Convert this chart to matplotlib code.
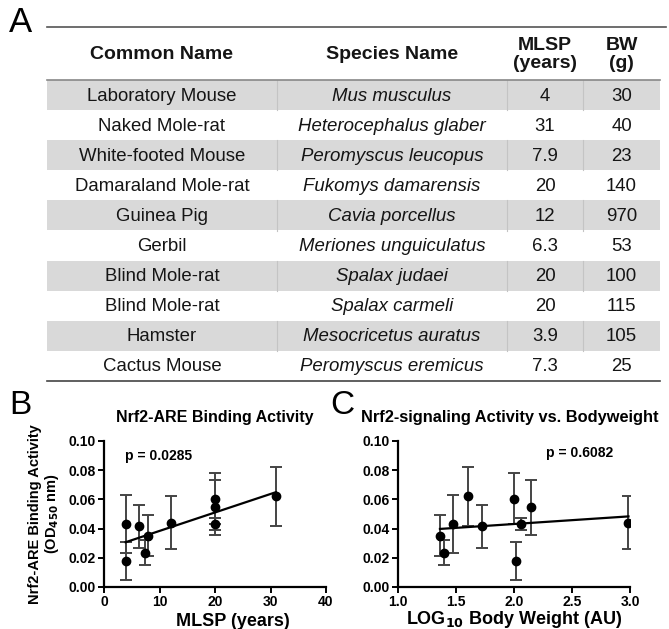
import numpy as np
import matplotlib
matplotlib.use("Agg")
import matplotlib.pyplot as plt
from matplotlib.patches import Rectangle

plt.rcParams['font.family'] = ['Liberation Sans', 'DejaVu Sans']

# table data
common_names = ["Laboratory Mouse", "Naked Mole-rat", "White-footed Mouse",
                "Damaraland Mole-rat", "Guinea Pig", "Gerbil", "Blind Mole-rat",
                "Blind Mole-rat", "Hamster", "Cactus Mouse"]
species_names = ["Mus musculus", "Heterocephalus glaber", "Peromyscus leucopus",
                 "Fukomys damarensis", "Cavia porcellus", "Meriones unguiculatus",
                 "Spalax judaei", "Spalax carmeli", "Mesocricetus auratus",
                 "Peromyscus eremicus"]
mlsp = [4, 31, 7.9, 20, 12, 6.3, 20, 20, 3.9, 7.3]
mlsp_txt = ["4", "31", "7.9", "20", "12", "6.3", "20", "20", "3.9", "7.3"]
bw = [30, 40, 23, 140, 970, 53, 100, 115, 105, 25]

# Nrf2-ARE binding activity (OD450), mean and error, same species order
activity = [0.043, 0.062, 0.035, 0.0545, 0.044, 0.0415, 0.0605, 0.043, 0.018, 0.0235]
act_err = [0.020, 0.020, 0.014, 0.019, 0.018, 0.0148, 0.0175, 0.0043, 0.013, 0.0085]

W, H = 669, 629
fig = plt.figure(figsize=(W / 100, H / 100), dpi=100)

# ---- panel A: table drawn in pixel space ----
tab = fig.add_axes([0, 0, 1, 1])
tab.set_xlim(0, W)
tab.set_ylim(H, 0)
tab.axis("off")

col_edges = [47, 277, 507, 583, 660]
top, head_bot, row_h = 27, 80, 30.1
shade = "#d9d9d9"

for i in range(len(common_names)):
    y0 = head_bot + i * row_h
    if i % 2 == 0:
        tab.add_patch(Rectangle((col_edges[0], y0), col_edges[-1] - col_edges[0], row_h,
                                facecolor=shade, edgecolor="none"))
        for xe in col_edges[1:-1]:
            tab.plot([xe, xe], [y0, y0 + row_h], color="#c4c4c4", lw=0.8)
    yc = y0 + row_h / 2 + 1
    cells = [common_names[i], species_names[i], mlsp_txt[i], str(bw[i])]
    for j, txt in enumerate(cells):
        xc = (col_edges[j] + col_edges[j + 1]) / 2
        tab.text(xc, yc, txt, ha="center", va="center", fontsize=13.4,
                 style="italic" if j == 1 else "normal", color="#151515")

bottom = head_bot + len(common_names) * row_h
tab.plot([col_edges[0], W - 3], [top, top], color="#555555", lw=1.2)
tab.plot([col_edges[0], col_edges[-1]], [head_bot, head_bot], color="#888888", lw=1.2)
tab.plot([col_edges[0], col_edges[-1]], [bottom, bottom], color="#444444", lw=1.2)

headers = ["Common Name", "Species Name", "MLSP\n(years)", "BW\n(g)"]
for j, txt in enumerate(headers):
    xc = (col_edges[j] + col_edges[j + 1]) / 2
    tab.text(xc, (top + head_bot) / 2 + 1, txt, ha="center", va="center",
             fontsize=14, fontweight="bold", linespacing=1.0, color="#151515")

tab.text(9, 23, "A", fontsize=25, ha="left", va="center")
tab.text(9, 405, "B", fontsize=24, ha="left", va="center")
tab.text(330, 405, "C", fontsize=24, ha="left", va="center")


def style_axes(ax):
    for s in ["top", "right"]:
        ax.spines[s].set_visible(False)
    for s in ["left", "bottom"]:
        ax.spines[s].set_linewidth(1.6)
    ax.tick_params(width=1.4, length=4, labelsize=10, pad=2)
    for lab in ax.get_xticklabels() + ax.get_yticklabels():
        lab.set_fontweight("bold")
    ax.set_ylim(0, 0.10)
    ax.set_yticks(np.arange(0, 0.101, 0.02))
    ax.set_yticklabels(["%.2f" % v for v in np.arange(0, 0.101, 0.02)], fontweight="bold")


def scatter_fit(ax, x, y, err):
    ax.errorbar(x, y, yerr=err, fmt="o", color="black", ecolor="#444444",
                ms=6, elinewidth=1.4, capsize=4, capthick=1.4, zorder=3)
    k, b = np.polyfit(x, y, 1)
    xs = np.array([min(x), max(x)])
    ax.plot(xs, k * xs + b, color="black", lw=1.6, zorder=4)


# ---- panel B ----
axb = fig.add_axes([104 / W, 1 - 587 / H, 222 / W, 146 / H])
scatter_fit(axb, np.array(mlsp), np.array(activity), act_err)
axb.set_xlim(0, 40)
axb.set_xticks([0, 10, 20, 30, 40])
axb.set_xticklabels(["0", "10", "20", "30", "40"])
style_axes(axb)
axb.set_title("Nrf2-ARE Binding Activity", fontsize=11.5, fontweight="bold", pad=14)
axb.set_xlabel("MLSP (years)", fontsize=13, fontweight="bold", labelpad=3, x=0.58)
axb.set_ylabel("Nrf2-ARE Binding Activity\n(OD$_\\mathbf{450}$ nm)", fontsize=10.5,
               fontweight="bold", labelpad=5, linespacing=1.15)
axb.text(0.095, 0.90, "p = 0.0285", transform=axb.transAxes, fontsize=10,
         fontweight="bold", va="center")

# ---- panel C ----
axc = fig.add_axes([398 / W, 1 - 587 / H, 232 / W, 146 / H])
scatter_fit(axc, np.log10(bw), np.array(activity), act_err)
axc.set_xlim(1.0, 3.0)
axc.set_xticks([1.0, 1.5, 2.0, 2.5, 3.0])
axc.set_xticklabels(["1.0", "1.5", "2.0", "2.5", "3.0"])
style_axes(axc)
axc.set_title("Nrf2-signaling Activity vs. Bodyweight", fontsize=11.8,
              fontweight="bold", pad=14, x=0.48)
axc.set_xlabel("LOG$_\\mathbf{10}$ Body Weight (AU)", fontsize=13, fontweight="bold",
               labelpad=0)
axc.text(0.64, 0.92, "p = 0.6082", transform=axc.transAxes, fontsize=10,
         fontweight="bold", va="center")

fig.savefig("out.png", dpi=100)
